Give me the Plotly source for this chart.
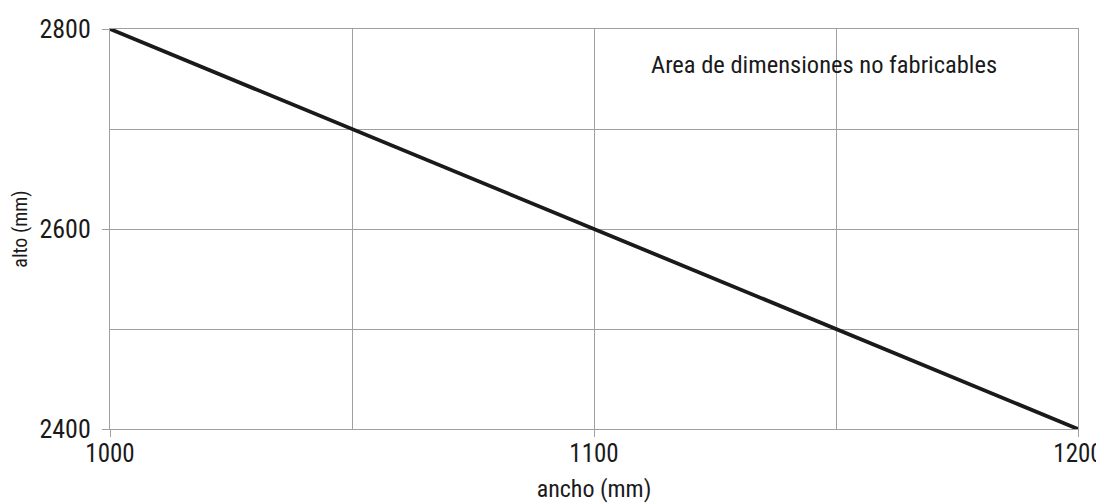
import plotly.graph_objects as go

ancho = [1000, 1200]
alto = [2800, 2400]
x_ticks = [1000, 1100, 1200]
y_ticks = [2400, 2600, 2800]
annotation_text = "Area de dimensiones no fabricables"

FONT = "Liberation Sans Narrow, Arial Narrow, Roboto Condensed, Roboto, sans-serif"
GRID = "#a0a0a0"

fig = go.Figure()
fig.add_trace(go.Scatter(x=ancho, y=alto, mode="lines",
                         line=dict(color="#1a1a1a", width=3.8),
                         showlegend=False, hoverinfo="skip", cliponaxis=False))

fig.update_layout(
    width=1096, height=496,
    margin=dict(l=102, r=26, t=21, b=75, autoexpand=False),
    paper_bgcolor="white", plot_bgcolor="white",
    font=dict(family=FONT, color="#1a1a1a", size=19),
    xaxis=dict(
        range=[1000, 1200], tickvals=x_ticks, ticktext=[str(v) for v in x_ticks],
        showgrid=True, gridcolor=GRID, gridwidth=1,
        minor=dict(dtick=50, showgrid=True, gridcolor=GRID, gridwidth=1),
        ticks="outside", ticklen=7, tickcolor=GRID, tickwidth=1,
        showline=True, linecolor=GRID, mirror=True, zeroline=False,
        tickfont=dict(size=25), automargin=False, ticklabelstandoff=-5,
        title=dict(text="ancho (mm)", font=dict(size=24), standoff=13),
    ),
    yaxis=dict(
        range=[2400, 2800], tickvals=y_ticks, ticktext=[str(v) for v in y_ticks],
        showgrid=True, gridcolor=GRID, gridwidth=1,
        minor=dict(dtick=100, showgrid=True, gridcolor=GRID, gridwidth=1),
        ticks="outside", ticklen=7, tickcolor=GRID, tickwidth=1,
        showline=True, linecolor=GRID, mirror=True, zeroline=False,
        tickfont=dict(size=26), automargin=False, ticklabelstandoff=6,
        title=dict(text="alto (mm)", font=dict(size=20), standoff=8),
    ),
    annotations=[dict(x=1147.5, y=2765, xref="x", yref="y", text=annotation_text,
                      showarrow=False, font=dict(size=24.5, family=FONT))],
)

fig.write_html("out.html")
